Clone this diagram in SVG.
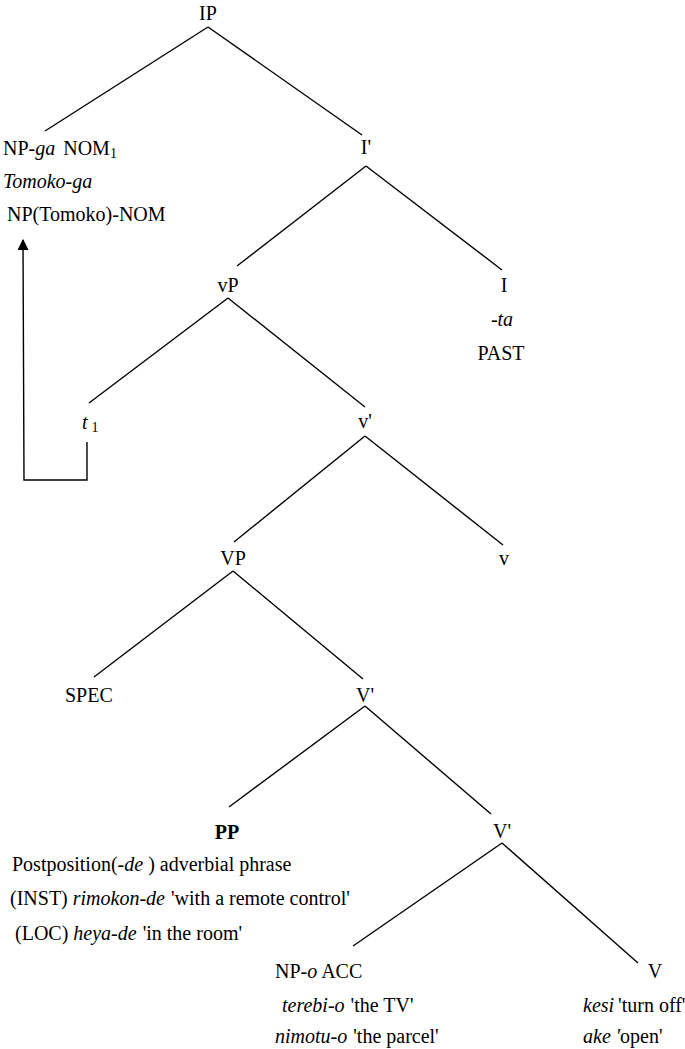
<svg xmlns="http://www.w3.org/2000/svg" width="685" height="1049" viewBox="0 0 685 1049">
<style>
text{font-family:'Liberation Serif','Times New Roman',Times,'DejaVu Serif',serif;font-size:20px;fill:#000}
.m{text-anchor:middle}
.i{font-style:italic}
.b{font-weight:bold}
.s{font-size:14px}
.e{stroke:#000;stroke-width:1.4;fill:none}
</style>
<defs>
<marker id="ah" viewBox="0 0 10 10" refX="9" refY="5" markerWidth="11" markerHeight="11" markerUnits="userSpaceOnUse" orient="auto">
<path d="M0,0 L10,5 L0,10 z" fill="#000"/>
</marker>
</defs>
<rect width="685" height="1049" fill="#fff"/>
<g id="connectors">
<line class="e" x1="208" y1="27" x2="45" y2="131"/>
<line class="e" x1="208" y1="27" x2="362" y2="135"/>
<line class="e" x1="366" y1="166" x2="237" y2="266"/>
<line class="e" x1="366" y1="166" x2="502" y2="270"/>
<line class="e" x1="228" y1="298" x2="89" y2="403"/>
<line class="e" x1="228" y1="298" x2="365" y2="407"/>
<line class="e" x1="365" y1="436" x2="234" y2="542"/>
<line class="e" x1="365" y1="436" x2="503" y2="545"/>
<line class="e" x1="233" y1="571" x2="94" y2="677"/>
<line class="e" x1="233" y1="571" x2="363" y2="679"/>
<line class="e" x1="365" y1="706" x2="229" y2="807"/>
<line class="e" x1="365" y1="706" x2="491" y2="814"/>
<line class="e" x1="502" y1="843" x2="353" y2="946"/>
<line class="e" x1="502" y1="843" x2="638" y2="963"/>
<polyline class="e" points="87,442 87,480 24,480 23,240" marker-end="url(#ah)"/>
</g>
<g id="IP"><text class="m" x="208" y="20">IP</text></g>
<g id="NP-ga">
<text x="3" y="155">NP-<tspan class="i">ga</tspan><tspan dx="8">NOM</tspan><tspan class="s" dy="3">1</tspan></text>
<text class="i" x="3" y="188">Tomoko-ga</text>
<text x="7" y="221">NP(Tomoko)-NOM</text>
</g>
<g id="I-bar"><text class="m" x="366" y="154">I'</text></g>
<g id="vP"><text class="m" x="228" y="292">vP</text></g>
<g id="I">
<text class="m" x="504" y="292">I</text>
<text class="m i" x="502" y="326">-ta</text>
<text class="m" x="501" y="360">PAST</text>
</g>
<g id="t1"><text x="82" y="429"><tspan class="i">t</tspan><tspan class="s" dx="4" dy="3">1</tspan></text></g>
<g id="v-bar"><text class="m" x="365" y="428">v'</text></g>
<g id="VP"><text class="m" x="233" y="565">VP</text></g>
<g id="v"><text class="m" x="504" y="565">v</text></g>
<g id="SPEC"><text x="65" y="702">SPEC</text></g>
<g id="V-bar1"><text class="m" x="365" y="702">V'</text></g>
<g id="PP">
<text class="m b" x="227" y="839">PP</text>
<text x="12" y="871">Postposition(-<tspan class="i">de</tspan> ) adverbial phrase</text>
<text x="10" y="905">(INST) <tspan class="i">rimokon-de</tspan><tspan dx="6">'with a remote control'</tspan></text>
<text x="15" y="940">(LOC) <tspan class="i">heya-de</tspan><tspan dx="6">'in the room'</tspan></text>
</g>
<g id="V-bar2"><text class="m" x="502" y="838">V'</text></g>
<g id="NP-o">
<text x="275" y="978">NP-<tspan class="i">o</tspan> ACC</text>
<text x="282" y="1012"><tspan class="i">terebi-o</tspan><tspan dx="6">'the TV'</tspan></text>
<text x="275" y="1043"><tspan class="i">nimotu-o</tspan><tspan dx="6">'the parcel'</tspan></text>
</g>
<g id="V">
<text class="m" x="655" y="978">V</text>
<text x="583" y="1012"><tspan class="i">kesi</tspan><tspan dx="4">'turn off'</tspan></text>
<text x="583" y="1043"><tspan class="i">ake '</tspan>open'</text>
</g>
</svg>
